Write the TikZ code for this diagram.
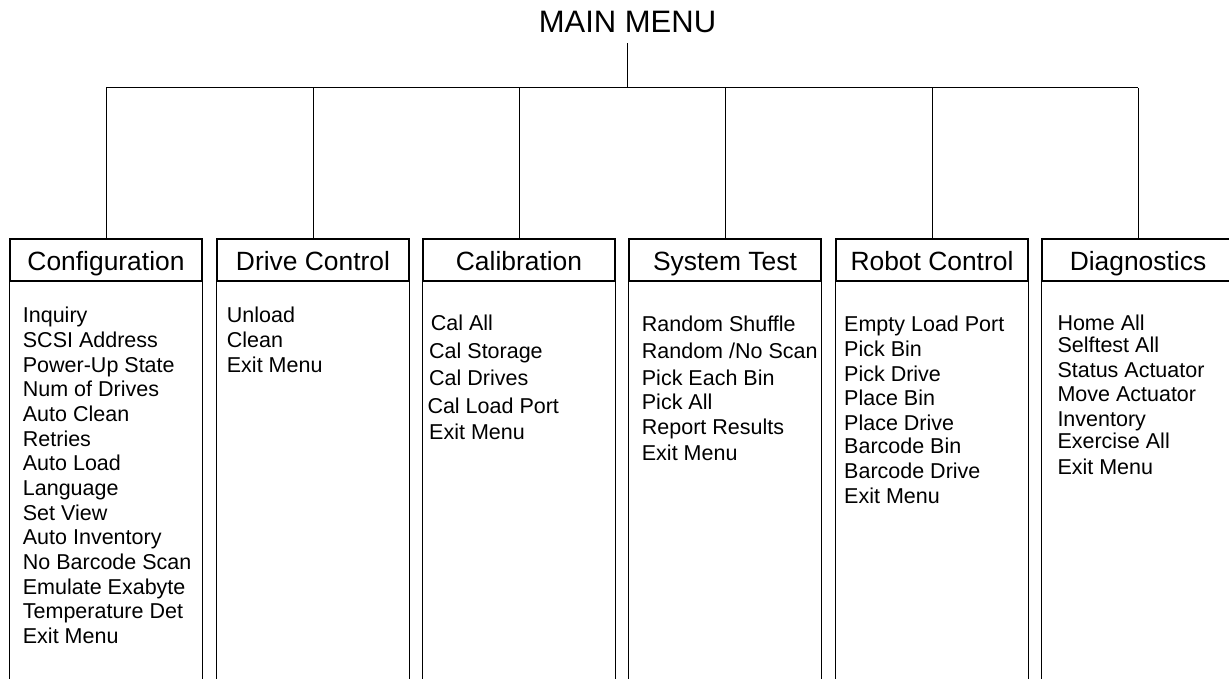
\documentclass[tikz,border=0pt]{standalone}
\usepackage{fontspec}
\setmainfont{Liberation Sans}
\begin{document}
\begin{tikzpicture}[x=1pt,y=-1pt,
  mainlbl/.style={inner xsep=0pt, inner ysep=10.7pt, text height=23pt, text depth=0pt,
    anchor=base, font=\fontsize{31}{34}\selectfont},
  menuhead/.style={draw, line width=1.2pt, minimum width=192pt, minimum height=42pt,
    inner sep=0pt, text height=21pt, text depth=0pt, font=\fontsize{26.4}{30}\selectfont},
  menuitem/.style={anchor=base west, inner sep=0pt, font=\fontsize{21.5}{24}\selectfont},
  side/.style={line width=1.2pt},
  wire/.style={line width=1pt}]
\useasboundingbox (0,0) rectangle (1229,679);

% top of the tree
\node[mainlbl] (main) at (627.5,32.3) {MAIN MENU};
\coordinate (bus) at (627.5,88);
\draw[wire] (main.south) -- (bus);

% sub-menu headers
\node[menuhead] (cfg)  at (106,260) {Configuration};
\node[menuhead] (drv)  at (313,260) {Drive Control};
\node[menuhead] (cal)  at (519,260) {Calibration};
\node[menuhead] (sys)  at (725,260) {System Test};
\node[menuhead] (rob)  at (932,260) {Robot Control};
\node[menuhead] (diag) at (1138,260) {Diagnostics};

% horizontal bus and drops to each header
\draw[wire] (cfg.north |- bus) -- (diag.north |- bus);
\foreach \h in {cfg,drv,cal,sys,rob,diag}{
  \draw[wire] (\h.north |- bus) -- (\h.north);
  \draw[side] (\h.south west) -- ++(0,420);
  \draw[side] (\h.south east) -- ++(0,420);
}

% Configuration entries
\foreach \t [count=\k from 0] in {Inquiry,SCSI Address,Power-Up State,Num of Drives,
    Auto Clean,Retries,Auto Load,Language,Set View,Auto Inventory,No Barcode Scan,
    Emulate Exabyte,Temperature Det,Exit Menu}
  \node[menuitem] (cfg-\k) at (22.7,322.7+24.69*\k) {\t};

% Drive Control entries
\foreach \t [count=\k from 0] in {Unload,Clean,Exit Menu}
  \node[menuitem] (drv-\k) at (226.7,322.7+24.69*\k) {\t};

% Calibration entries
\foreach \x/\y/\t [count=\k] in {430.7/330.4/Cal All, 429/358.1/Cal Storage,
    429/385.4/Cal Drives, 427.3/413.1/Cal Load Port, 429/439.7/Exit Menu}
  \node[menuitem] (cal-\k) at (\x,\y) {\t};

% System Test entries
\foreach \y/\t [count=\k] in {331.1/Random Shuffle, 358.1/{Random /No Scan},
    385.4/Pick Each Bin, 409.4/Pick All, 434.7/Report Results, 460.4/Exit Menu}
  \node[menuitem] (sys-\k) at (641.7,\y) {\t};

% Robot Control entries
\foreach \y/\t [count=\k] in {331.1/Empty Load Port, 356.1/Pick Bin, 381.4/Pick Drive,
    405.4/Place Bin, 430.4/Place Drive, 453.7/Barcode Bin, 478.7/Barcode Drive,
    503.7/Exit Menu}
  \node[menuitem] (rob-\k) at (844,\y) {\t};

% Diagnostics entries
\foreach \y/\t [count=\k] in {330.4/Home All, 352.7/Selftest All, 377.7/Status Actuator,
    401.1/Move Actuator, 426.4/Inventory, 448.7/Exercise All, 474.4/Exit Menu}
  \node[menuitem] (diag-\k) at (1057.3,\y) {\t};
\end{tikzpicture}
\end{document}
